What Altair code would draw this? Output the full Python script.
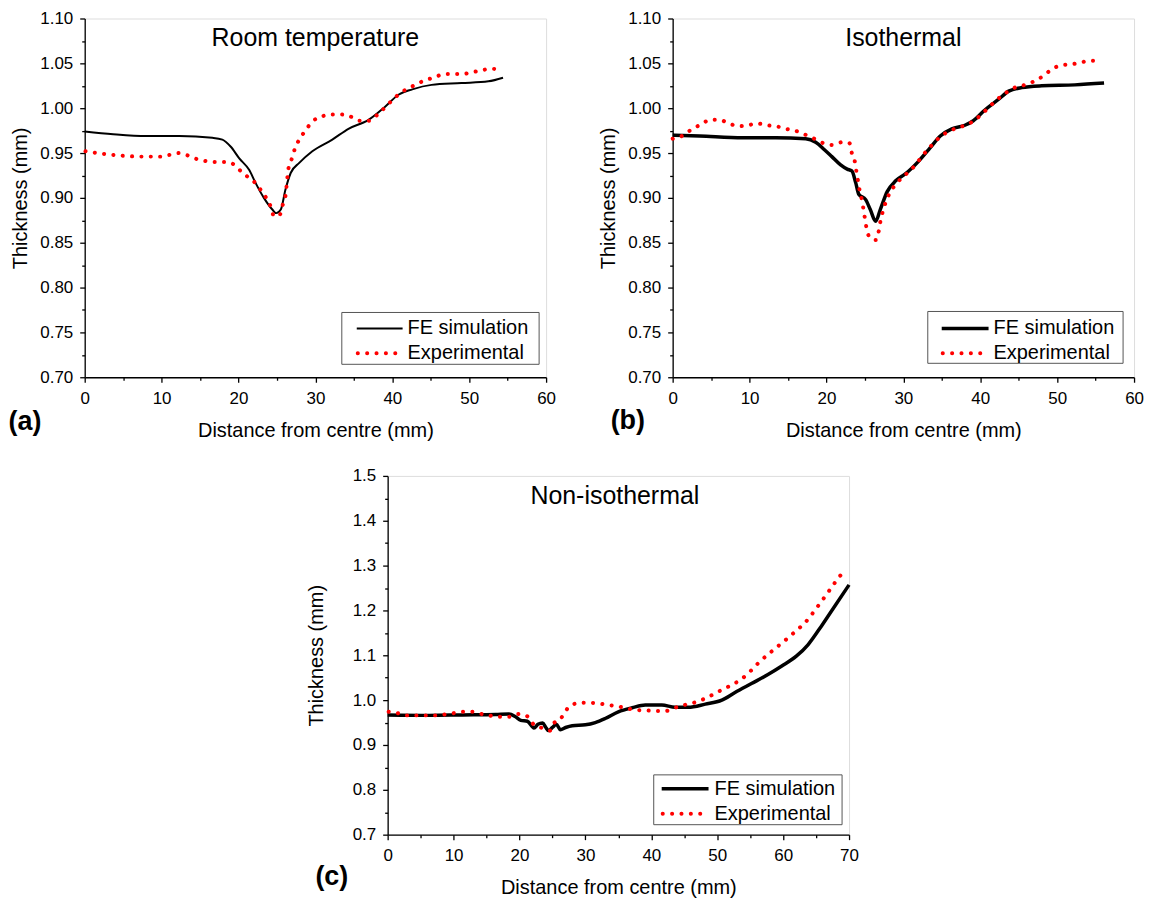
import altair as alt
import pandas as pd

FONT = "Liberation Sans"

# ---------------- data ----------------
a_fe_x = [0, 3.7, 8.0, 12.3, 16.6, 17.9, 19.0, 20.1, 21.4, 22.2, 23.3, 24.4, 24.9, 25.5, 26.1, 26.8, 27.9, 29.6,
          32.2, 34.3, 36.9, 39.1, 40.8, 42.6, 45.1, 49.0, 52.5, 54.4]
a_fe_y = [0.974, 0.971, 0.969, 0.969, 0.967, 0.965, 0.957, 0.944, 0.931, 0.917, 0.900, 0.887, 0.883, 0.887, 0.909,
          0.928, 0.939, 0.952, 0.965, 0.977, 0.987, 1.002, 1.015, 1.021, 1.026, 1.028, 1.030, 1.034]
a_ex_x = [0.1, 2.5, 4.9, 7.4, 9.8, 12.3, 13.5, 14.7, 17.2, 18.4, 19.6, 20.6, 21.8, 22.8, 23.6, 24.2, 24.6, 25.3,
          25.7, 26.1, 26.5, 26.9, 27.3, 27.9, 28.7, 29.6, 30.9, 32.1, 33.3, 34.5, 35.7, 36.9, 38.1, 39.3, 40.5,
          41.8, 43.0, 44.2, 45.4, 46.7, 47.9, 49.1, 50.3, 51.5, 52.8, 54.0]
a_ex_y = [0.952, 0.949, 0.947, 0.946, 0.946, 0.950, 0.947, 0.943, 0.940, 0.940, 0.936, 0.927, 0.920, 0.910, 0.900,
          0.890, 0.880, 0.880, 0.891, 0.902, 0.933, 0.943, 0.954, 0.965, 0.975, 0.985, 0.991, 0.993, 0.993, 0.991,
          0.986, 0.986, 0.993, 1.003, 1.013, 1.021, 1.026, 1.031, 1.034, 1.038, 1.038, 1.038, 1.040, 1.042, 1.044,
          1.043]

b_fe_x = [0, 3.5, 9.1, 13.4, 17.3, 18.6, 19.7, 20.7, 21.8, 22.7, 23.3, 23.8, 24.2, 25.1, 25.7, 26.4, 27.0, 27.9,
          29.0, 30.3, 32.0, 33.5, 34.8, 36.3, 38.0, 39.1, 40.6, 42.4, 43.7, 45.4, 48.0, 52.3, 56.1]
b_fe_y = [0.970, 0.969, 0.967, 0.967, 0.966, 0.962, 0.954, 0.946, 0.937, 0.932, 0.930, 0.917, 0.904, 0.898, 0.887,
          0.874, 0.887, 0.907, 0.919, 0.927, 0.941, 0.956, 0.969, 0.977, 0.981, 0.986, 0.998, 1.010, 1.019, 1.023,
          1.025, 1.026, 1.028]
b_ex_x = [0, 1.2, 2.4, 3.7, 4.9, 6.1, 7.3, 8.6, 9.8, 11.0, 12.2, 13.4, 14.7, 15.9, 17.1, 18.4, 19.6, 20.8, 22.0,
          23.0, 23.3, 23.7, 23.9, 24.1, 24.3, 24.6, 24.8, 25.2, 25.6, 26.4, 26.8, 27.0, 27.3, 27.7, 28.2, 29.1,
          30.3, 31.5, 32.4, 33.5, 34.8, 36.1, 37.4, 38.6, 39.9, 41.0, 42.1, 43.3, 44.5, 45.8, 47.0, 48.2, 49.4,
          50.7, 51.9, 53.1, 54.3, 55.5]
b_ex_y = [0.966, 0.969, 0.976, 0.982, 0.987, 0.987, 0.983, 0.980, 0.981, 0.983, 0.981, 0.980, 0.977, 0.975, 0.971,
          0.966, 0.961, 0.959, 0.962, 0.961, 0.950, 0.940, 0.929, 0.919, 0.909, 0.898, 0.888, 0.867, 0.856, 0.853,
          0.863, 0.873, 0.884, 0.895, 0.905, 0.916, 0.926, 0.936, 0.946, 0.957, 0.968, 0.975, 0.979, 0.983, 0.991,
          1.000, 1.009, 1.017, 1.023, 1.026, 1.030, 1.036, 1.044, 1.048, 1.049, 1.051, 1.053, 1.053]

c_fe_x = [0, 6.3, 11.3, 16.4, 18.4, 19.4, 20.2, 21.2, 22.2, 22.8, 23.5, 24.0, 24.4, 25.0, 25.6, 26.2, 27.0, 28.0,
          30.0, 31.5, 33.0, 35.0, 37.1, 39.1, 41.6, 43.6, 45.6, 48.2, 50.7, 52.7, 55.2, 57.7, 59.8, 62.0, 63.8,
          65.8, 67.8, 70.0]
c_fe_y = [0.967, 0.966, 0.967, 0.968, 0.969, 0.963, 0.955, 0.953, 0.938, 0.946, 0.949, 0.939, 0.932, 0.939, 0.946,
          0.934, 0.939, 0.943, 0.945, 0.950, 0.959, 0.974, 0.983, 0.989, 0.989, 0.984, 0.984, 0.991, 1.000, 1.017,
          1.037, 1.057, 1.076, 1.098, 1.124, 1.165, 1.209, 1.257]
c_ex_x = [0.15, 1.5, 2.9, 4.3, 5.8, 7.2, 8.6, 10.0, 11.4, 12.9, 14.3, 15.7, 17.1, 18.6, 19.9, 21.3, 22.2, 23.4,
          24.6, 25.3, 26.1, 26.8, 27.9, 29.3, 30.8, 32.2, 33.6, 35.0, 36.5, 37.9, 39.3, 40.7, 42.2, 43.6, 45.0,
          46.4, 47.9, 49.3, 50.7, 52.2, 53.6, 55.0, 56.4, 57.8, 59.2, 60.6, 62.0, 63.4, 64.7, 65.8, 66.8, 67.8, 68.9]
c_ex_y = [0.974, 0.971, 0.966, 0.966, 0.966, 0.966, 0.968, 0.971, 0.974, 0.974, 0.969, 0.965, 0.963, 0.963, 0.969,
          0.963, 0.945, 0.938, 0.932, 0.950, 0.955, 0.972, 0.989, 0.994, 0.994, 0.992, 0.989, 0.986, 0.981, 0.978,
          0.977, 0.976, 0.976, 0.983, 0.989, 0.994, 1.002, 1.012, 1.023, 1.034, 1.046, 1.064, 1.085, 1.103, 1.120,
          1.137, 1.155, 1.174, 1.198, 1.220, 1.240, 1.261, 1.282]

series_names = ["FE simulation", "Experimental"]
panel_titles = ["Room temperature", "Isothermal", "Non-isothermal"]
panel_tags = ["(a)", "(b)", "(c)"]
x_title = "Distance from centre (mm)"
y_title = "Thickness (mm)"
x_ticks_ab = list(range(0, 61, 5))
x_ticks_c = list(range(0, 71, 5))
y_ticks_ab = [round(0.70 + 0.025 * i, 3) for i in range(17)]
y_ticks_c = [round(0.70 + 0.05 * i, 2) for i in range(17)]

W, H = 463, 360


def one(label):
    return pd.DataFrame({"t": [label]})


def panel(fe_x, fe_y, ex_x, ex_y, title, title_x, tag, tag_x, tag_y, xmax, x_ticks, y_dom, y_ticks,
          y_major_test, y_fmt, fe_width, y_title_pad, box, sym_x, text_x, rows):
    x_test = "datum.value % 10 == 0"
    xax = alt.Axis(values=x_ticks, format="d", labelExpr=f"{x_test} ? datum.label : ''",
                   tickSize={"condition": {"test": x_test, "value": 5}, "value": 3},
                   labelFontSize=17, titleFontSize=20, titleFontWeight="normal", labelPadding=8,
                   titlePadding=14, grid=False, domainColor="black", tickColor="black", domainWidth=1.3,
                   tickWidth=1.3, labelColor="black", titleColor="black", labelFlush=False,
                   labelOverlap=False, labelFont=FONT, titleFont=FONT, title=x_title)
    yax = alt.Axis(values=y_ticks, format=y_fmt, labelExpr=f"{y_major_test} ? datum.label : ''",
                   tickSize={"condition": {"test": y_major_test, "value": 5}, "value": 3},
                   labelFontSize=17, titleFontSize=20, titleFontWeight="normal", labelPadding=7,
                   titlePadding=y_title_pad, grid=False, domainColor="black", tickColor="black",
                   domainWidth=1.3, tickWidth=1.3, labelColor="black", titleColor="black",
                   labelFlush=False, labelOverlap=False, labelFont=FONT, titleFont=FONT, title=y_title)
    xs = alt.Scale(domain=[0, xmax], nice=False, zero=False)
    ys = alt.Scale(domain=y_dom, nice=False, zero=False)

    fe_df = pd.DataFrame({"x": fe_x, "y": fe_y})
    ex_df = pd.DataFrame({"x": ex_x, "y": ex_y})
    fe = alt.Chart(fe_df).mark_line(color="black", strokeWidth=fe_width, interpolate="monotone").encode(
        x=alt.X("x:Q", scale=xs, axis=xax), y=alt.Y("y:Q", scale=ys, axis=yax))
    ex = alt.Chart(ex_df).mark_line(color="#ff0000", strokeWidth=4, strokeDash=[0.1, 9.3], strokeCap="round",
                                    interpolate="monotone").encode(
        x=alt.X("x:Q", scale=xs, axis=xax), y=alt.Y("y:Q", scale=ys, axis=yax))

    bx0, bx1, by0, by1 = box
    box_m = alt.Chart(one("box")).mark_rect(fill="white", stroke="#555555", strokeWidth=1).encode(
        x=alt.value(bx0), x2=alt.value(bx1), y=alt.value(by0), y2=alt.value(by1))
    sym1 = alt.Chart(one("s1")).mark_rule(color="black", strokeWidth=fe_width).encode(
        x=alt.value(sym_x[0]), x2=alt.value(sym_x[1]), y=alt.value(rows[0]))
    sym2 = alt.Chart(one("s2")).mark_rule(color="#ff0000", strokeWidth=4, strokeDash=[0.1, 9.3],
                                          strokeCap="round").encode(
        x=alt.value(sym_x[0] + 1), x2=alt.value(sym_x[1]), y=alt.value(rows[1]))
    t1 = alt.Chart(one(series_names[0])).mark_text(align="left", baseline="middle", fontSize=20, font=FONT,
                                                   color="black").encode(
        text="t:N", x=alt.value(text_x), y=alt.value(rows[0]))
    t2 = alt.Chart(one(series_names[1])).mark_text(align="left", baseline="middle", fontSize=20, font=FONT,
                                                   color="black").encode(
        text="t:N", x=alt.value(text_x), y=alt.value(rows[1]))
    ttl = alt.Chart(one(title)).mark_text(align="center", baseline="middle", fontSize=25, font=FONT,
                                          color="black").encode(
        text="t:N", x=alt.value(title_x), y=alt.value(20))
    tg = alt.Chart(one(tag)).mark_text(align="center", baseline="middle", fontSize=27, fontWeight="bold",
                                       font=FONT, color="black").encode(
        text="t:N", x=alt.value(tag_x), y=alt.value(tag_y))
    return alt.layer(fe, ex, box_m, sym1, sym2, t1, t2, ttl, tg).properties(width=W, height=H)


test05 = "abs(datum.value*20 - round(datum.value*20)) < 0.001"
test10 = "abs(datum.value*10 - round(datum.value*10)) < 0.001"

pa = panel(a_fe_x, a_fe_y, a_ex_x, a_ex_y, panel_titles[0], W / 2, panel_tags[0], -60, H + 45, 60, x_ticks_ab,
           [0.70, 1.10], y_ticks_ab, test05, ".2f", 2, 9, (258, 456, 295, 347), (273, 319), 324, (311, 336))
pb = panel(b_fe_x, b_fe_y, b_ex_x, b_ex_y, panel_titles[1], W / 2, panel_tags[1], -45, H + 44, 60, x_ticks_ab,
           [0.70, 1.10], y_ticks_ab, test05, ".2f", 3.5, 9, (256, 452, 294, 346), (270, 317), 322, (311, 336))
pc = panel(c_fe_x, c_fe_y, c_ex_x, c_ex_y, panel_titles[2], 228, panel_tags[2], -56, H + 43, 70, x_ticks_c,
           [0.7, 1.5], y_ticks_c, test10, ".1f", 3.5, 26, (267, 456, 300, 350), (275, 322), 328, (314, 339))

spacer = alt.Chart(one("sp")).mark_point(opacity=0).encode(
    x=alt.X("t:N", axis=None), y=alt.Y("t:N", axis=None)).properties(
    width=220, height=10, view=alt.ViewBackground(stroke="transparent"))

top = alt.hconcat(pa, pb, spacing=42)
bottom = alt.hconcat(spacer, pc, spacing=0)
chart = alt.vconcat(top, bottom, spacing=25).properties(
    padding={"left": 8, "top": 7, "right": 5, "bottom": 0}
).configure_view(stroke="#222222", strokeWidth=1.3).configure(font=FONT, background="white")

chart.save("out.html", embed_options={"renderer": "svg", "actions": False})
